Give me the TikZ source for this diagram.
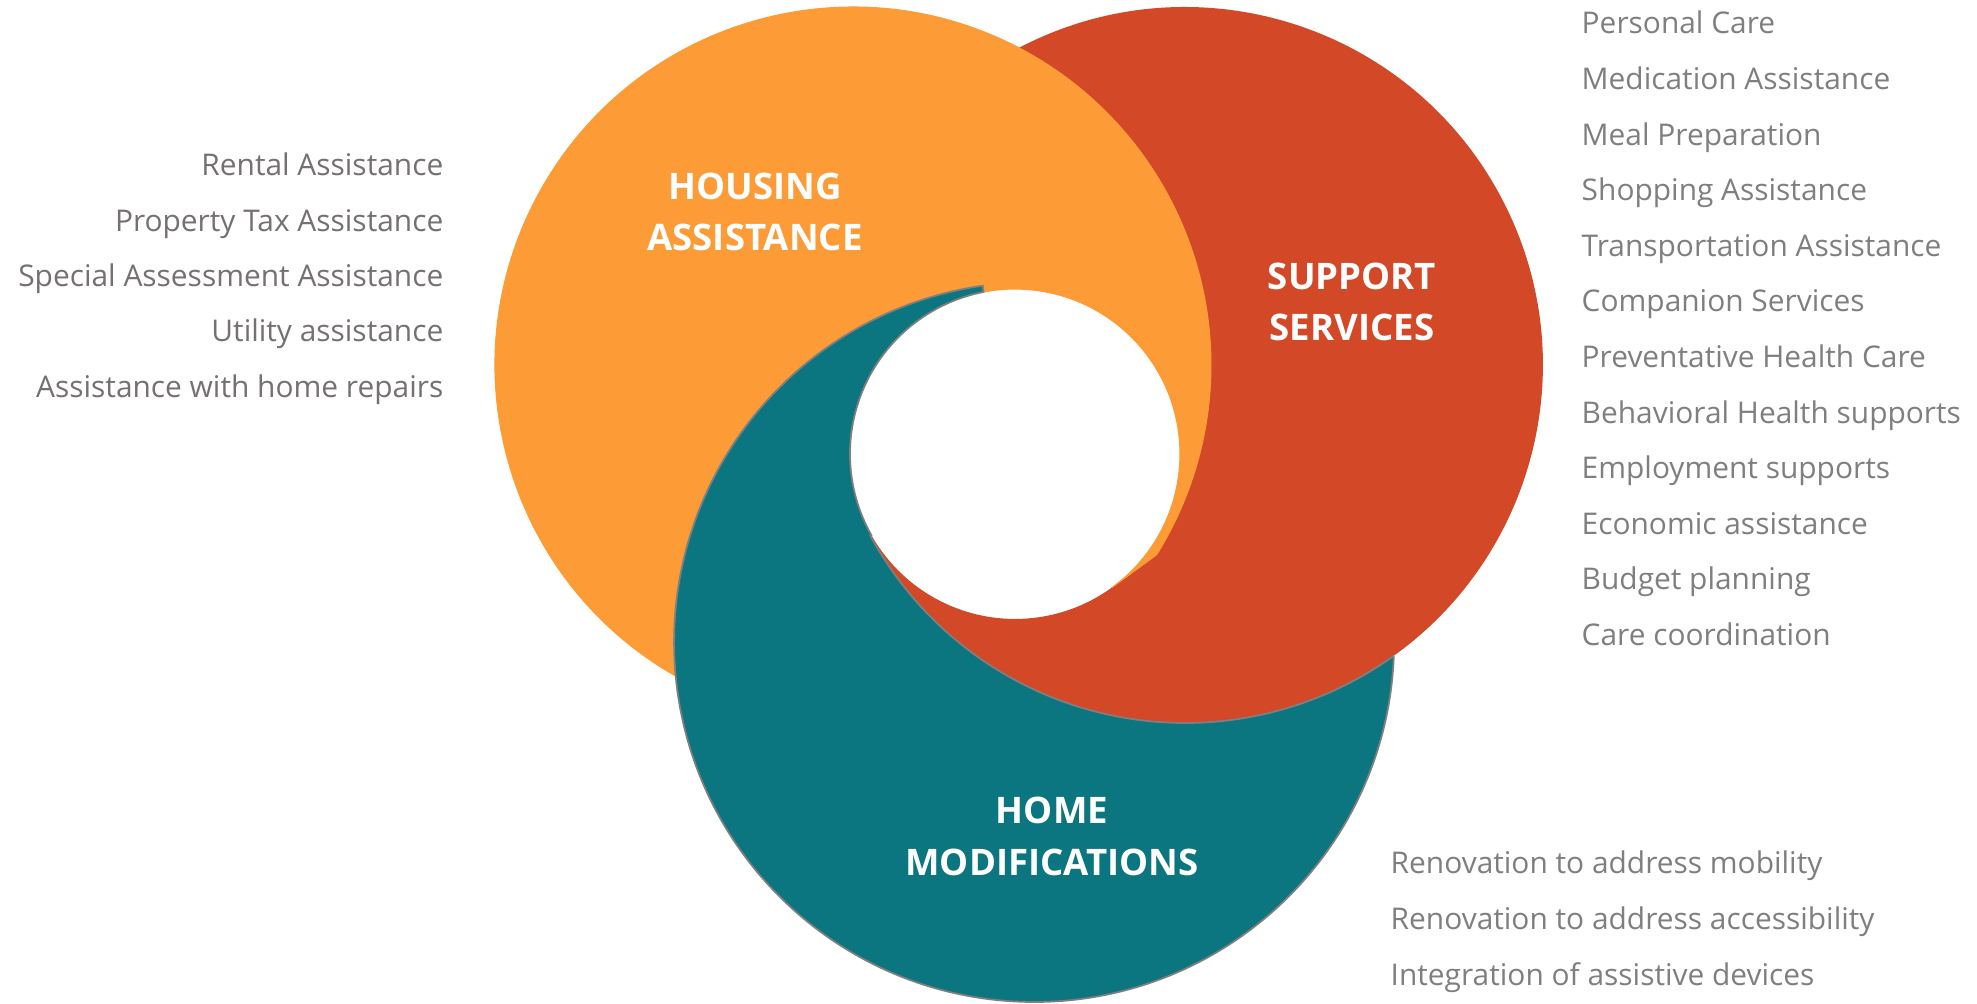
\documentclass[tikz,border=0pt]{standalone}
\usepackage{fontspec}
\setmainfont{Open Sans}
\definecolor{housing}{HTML}{FD9B36}
\definecolor{support}{HTML}{D34827}
\definecolor{homemod}{HTML}{0B7580}
\definecolor{leftgray}{HTML}{767171}
\definecolor{rightgray}{HTML}{7F7F7F}
\begin{document}
\begin{tikzpicture}[x=0.01cm, y=0.01cm]
        \tikzstyle{every node}+=[inner sep=0pt]
        \tikzstyle{leftitem}=[anchor=base east, text=leftgray, font=\fontsize{8.5}{10}\selectfont]
        \tikzstyle{rightitem}=[anchor=base west, text=rightgray, font=\fontsize{8.5}{10}\selectfont]
        \tikzstyle{ringtitle}=[anchor=base, text=white, font=\fontsize{10.4}{13}\selectfont\bfseries]
        \useasboundingbox (0,0) rectangle (1977,-1004);
        % support services
        \fill [support] (1019,-47.8) arc (117.6:-151.5:358) -- (871.4,-535.2) arc (209.5:305.9:165) -- (1156.6,-554.7) arc (-32:62.4:358) -- cycle;
        % housing assistance
        \filldraw [fill=housing, draw=housing, line width=0.3pt] (675.6,-676) arc (240.3:-32:358) -- (1111.7,-587.7) arc (-54.1:101:165) -- (982.7,-285.7) arc (98.2:185.4:360) -- cycle;
        % home modifications
        \filldraw [fill=homemod, draw=rightgray, line width=0.5pt] (1393.8,-655.8) arc (-2.2:-261.8:360) -- (983.5,-292) arc (101:209.5:165) -- (870.4,-535.8) arc (208.5:305.7:358) -- cycle;
        \draw (755,-200) node [ringtitle] (housing1) {HOUSING};
        \draw (755,-251) node [ringtitle] (housing2) {ASSISTANCE};
        \draw (1352,-290) node [ringtitle] (support1) {SUPPORT};
        \draw (1352,-341) node [ringtitle] (support2) {SERVICES};
        \draw (1052,-823) node [ringtitle] (homemod1) {HOME};
        \draw (1052,-875) node [ringtitle] (homemod2) {MODIFICATIONS};
        % housing items
        \draw (444,-176) node [leftitem] (rental) {Rental Assistance};
        \draw (444,-231.3) node [leftitem] (proptax) {Property Tax Assistance};
        \draw (444,-286.6) node [leftitem] (special) {Special Assessment Assistance};
        \draw (444,-341.9) node [leftitem] (utility) {Utility assistance};
        \draw (444,-397.2) node [leftitem] (repairs) {Assistance with home repairs};
        % support items
        \draw (1581,-34) node [rightitem] (personal) {Personal Care};
        \draw (1581,-89.6) node [rightitem] (medication) {Medication Assistance};
        \draw (1581,-145.2) node [rightitem] (meal) {Meal Preparation};
        \draw (1581,-200.8) node [rightitem] (shopping) {Shopping Assistance};
        \draw (1581,-256.4) node [rightitem] (transport) {Transportation Assistance};
        \draw (1581,-312) node [rightitem] (companion) {Companion Services};
        \draw (1581,-367.6) node [rightitem] (preventive) {Preventative Health Care};
        \draw (1581,-423.2) node [rightitem] (behavioral) {Behavioral Health supports};
        \draw (1581,-478.8) node [rightitem] (employment) {Employment supports};
        \draw (1581,-534.4) node [rightitem] (economic) {Economic assistance};
        \draw (1581,-590) node [rightitem] (budget) {Budget planning};
        \draw (1581,-645.6) node [rightitem] (coordination) {Care coordination};
        % home modification items
        \draw (1390,-873) node [rightitem] (mobility) {Renovation to address mobility};
        \draw (1390,-929) node [rightitem] (access) {Renovation to address accessibility};
        \draw (1390,-985) node [rightitem] (devices) {Integration of assistive devices};
\end{tikzpicture}
\end{document}
